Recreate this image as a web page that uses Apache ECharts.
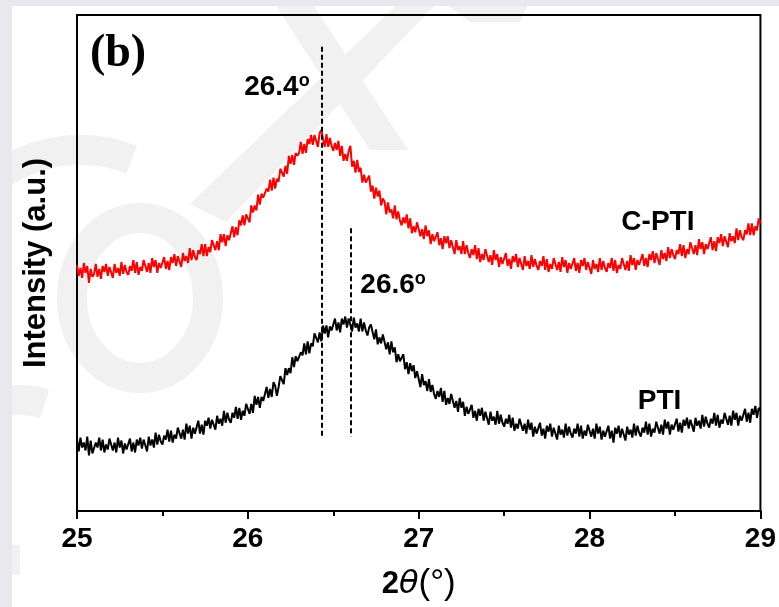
<!DOCTYPE html>
<html>
<head>
<meta charset="utf-8">
<script src="https://cdn.jsdelivr.net/npm/echarts@6/dist/echarts.min.js"></script>
<style>
  html, body { margin: 0; padding: 0; background: #fff; }
  #chart { width: 779px; height: 607px; }
</style>
</head>
<body>
<div id="chart"></div>
<script>
// XRD scan: 2θ from 25° to 29°, sampled every 0.01° (one row = 0.1°)
const angleStart = 25;
const angleStep = 0.01;

// C-PTI intensity (a.u.)
const cptiIntensity = [
  248, 237, 245, 235, 250, 240, 247, 230, 244, 236,
  239, 249, 236, 244, 234, 247, 241, 249, 237, 246,
  247, 235, 249, 240, 245, 237, 251, 239, 248, 241,
  238, 247, 242, 253, 240, 251, 238, 246, 242, 253,
  252, 241, 250, 240, 255, 246, 253, 240, 250, 245,
  246, 256, 244, 252, 243, 256, 250, 259, 247, 257,
  257, 246, 260, 252, 257, 250, 265, 253, 263, 256,
  253, 263, 259, 269, 257, 269, 257, 266, 261, 273,
  273, 263, 272, 263, 279, 271, 279, 267, 278, 273,
  275, 287, 276, 286, 278, 293, 288, 298, 288, 299,
  301, 291, 308, 301, 308, 303, 319, 309, 320, 316,
  314, 325, 322, 334, 323, 336, 325, 335, 332, 345,
  346, 337, 348, 340, 358, 350, 359, 349, 361, 358,
  361, 372, 360, 370, 361, 375, 370, 379, 369, 379,
  380, 367, 381, 384, 375, 367, 380, 367, 376, 368,
  363, 371, 364, 373, 358, 368, 353, 360, 353, 363,
  368, 347, 353, 341, 354, 342, 346, 331, 339, 331,
  330, 338, 322, 328, 315, 326, 317, 323, 308, 315,
  312, 299, 311, 301, 304, 295, 308, 294, 302, 293,
  288, 296, 290, 299, 285, 295, 280, 287, 281, 291,
  289, 277, 284, 274, 288, 277, 283, 269, 279, 272,
  272, 281, 268, 275, 264, 277, 270, 277, 265, 273,
  272, 259, 273, 263, 267, 259, 272, 259, 268, 260,
  255, 264, 258, 268, 254, 265, 251, 259, 253, 264,
  262, 251, 258, 248, 263, 253, 259, 246, 256, 249,
  250, 260, 247, 254, 244, 257, 251, 259, 246, 255,
  255, 243, 257, 247, 252, 244, 258, 246, 254, 247,
  243, 252, 247, 257, 243, 254, 241, 249, 244, 255,
  254, 243, 251, 241, 256, 246, 253, 240, 250, 244,
  245, 255, 242, 250, 240, 253, 247, 255, 243, 251,
  251, 239, 253, 244, 249, 241, 255, 243, 252, 245,
  241, 250, 245, 255, 242, 253, 240, 248, 244, 255,
  254, 243, 252, 242, 258, 248, 255, 243, 253, 248,
  249, 259, 247, 255, 246, 259, 253, 262, 250, 260,
  260, 248, 263, 254, 260, 252, 266, 255, 264, 258,
  254, 263, 259, 269, 257, 268, 255, 264, 259, 271,
  270, 259, 268, 258, 274, 264, 271, 259, 269, 264,
  265, 276, 263, 272, 262, 276, 270, 279, 267, 277,
  277, 266, 280, 272, 277, 270, 285, 273, 283, 276,
  273, 283, 279, 290, 278, 290, 278, 287, 283, 295,
  290
];

// PTI intensity (a.u.)
const ptiIntensity = [
  72, 60, 74, 64, 69, 61, 75, 56, 71, 58,
  60, 69, 64, 74, 61, 72, 59, 67, 62, 73,
  72, 61, 69, 59, 74, 64, 71, 58, 68, 62,
  63, 73, 60, 69, 59, 72, 66, 74, 63, 72,
  72, 60, 75, 66, 72, 64, 79, 67, 77, 70,
  67, 76, 72, 82, 70, 81, 69, 77, 73, 84,
  84, 73, 82, 72, 88, 78, 86, 73, 84, 78,
  80, 91, 78, 87, 77, 91, 86, 94, 83, 92,
  93, 82, 96, 88, 93, 86, 101, 89, 99, 92,
  89, 99, 94, 105, 93, 104, 92, 101, 96, 108,
  108, 98, 108, 99, 116, 107, 115, 104, 115, 111,
  113, 125, 114, 123, 115, 130, 126, 116, 125, 136,
  138, 128, 144, 137, 144, 139, 155, 145, 156, 151,
  149, 160, 157, 169, 158, 171, 159, 169, 166, 179,
  180, 170, 180, 171, 187, 179, 187, 175, 186, 182,
  184, 194, 182, 190, 180, 194, 188, 196, 185, 194,
  194, 181, 195, 185, 189, 181, 194, 181, 190, 182,
  177, 185, 188, 187, 173, 183, 168, 175, 169, 178,
  176, 163, 170, 158, 171, 160, 165, 150, 158, 151,
  150, 158, 143, 150, 138, 149, 141, 147, 134, 141,
  139, 125, 138, 127, 131, 121, 133, 120, 127, 118,
  113, 121, 115, 124, 110, 121, 107, 114, 108, 118,
  118, 104, 111, 100, 114, 104, 110, 96, 105, 98,
  98, 107, 94, 101, 91, 103, 96, 104, 91, 100,
  99, 87, 100, 91, 95, 87, 101, 88, 97, 89,
  85, 93, 88, 97, 84, 94, 81, 88, 83, 93,
  92, 81, 88, 78, 92, 82, 89, 75, 85, 78,
  79, 89, 76, 83, 73, 86, 80, 88, 75, 84,
  84, 72, 86, 77, 82, 74, 88, 76, 85, 78,
  74, 83, 78, 88, 75, 86, 73, 81, 76, 87,
  86, 75, 83, 73, 88, 78, 85, 72, 81, 75,
  76, 86, 73, 81, 69, 84, 78, 86, 74, 83,
  83, 71, 85, 77, 82, 74, 88, 76, 86, 79,
  75, 84, 79, 90, 77, 88, 75, 83, 79, 90,
  89, 78, 87, 77, 92, 83, 90, 77, 87, 82,
  83, 93, 80, 89, 79, 92, 86, 94, 83, 92,
  92, 80, 94, 86, 91, 83, 97, 85, 95, 88,
  84, 93, 88, 99, 86, 97, 84, 92, 88, 99,
  98, 87, 96, 86, 101, 92, 99, 86, 96, 91,
  92, 103, 90, 99, 89, 103, 97, 106, 94, 104,
  101
];

// Peak markers: position (2θ), top and bottom of the dashed guide
const peakAngles = [26.43, 26.6];
const peakLineTop = [468, 285];
const peakLineBottom = 75;
const peakLabelPos = [[26.17, 427], [26.85, 228]];

// Sample names and where they sit
const sampleNames = ['C-PTI', 'PTI'];
const sampleLabelPos = [[28.40, 291], [28.41, 111]];

const xMin = 25, xMax = 29, xInterval = 1;
const panelLetter = '(b)';

const toPairs = arr => arr.map((v, i) => [+(angleStart + i * angleStep).toFixed(2), v]);

const sans = '"Liberation Sans", Arial, sans-serif';
const black = '#000';
const wm = '#f1f1f1';

const chart = echarts.init(document.getElementById('chart'), null, { renderer: 'canvas' });

const option = {
  backgroundColor: '#ffffff',
  animation: false,
  grid: { left: 77, right: 18, top: 15, bottom: 92, show: true, borderColor: black, borderWidth: 2 },
  graphic: [
    // faint background watermark
    { type: 'polygon', z: -10, silent: true,
      shape: { points: [[190, 204], [226, 222], [440, 0], [402, 0]] },
      style: { fill: wm } },
    { type: 'polygon', z: -10, silent: true,
      shape: { points: [[272, 0], [310, 0], [408, 150], [370, 150]] },
      style: { fill: wm } },
    { type: 'polygon', z: -10, silent: true,
      shape: { points: [[440, 0], [530, 0], [520, 22], [470, 22]] },
      style: { fill: wm } },
    { type: 'ellipse', z: -10, silent: true,
      shape: { cx: 140, cy: 298, rx: 68, ry: 80 },
      style: { fill: 'none', stroke: wm, lineWidth: 30 } },
    { type: 'arc', z: -10, silent: true,
      shape: { cx: 80, cy: 290, r: 140, startAngle: Math.PI * 1.22, endAngle: Math.PI * 1.62 },
      style: { fill: 'none', stroke: wm, lineWidth: 30 } },
    { type: 'arc', z: -10, silent: true,
      shape: { cx: 20, cy: 480, r: 80, startAngle: Math.PI * 0.5, endAngle: Math.PI * 1.6 },
      style: { fill: 'none', stroke: wm, lineWidth: 30 } },
    // page edge bands
    { type: 'rect', z: -5, silent: true, shape: { x: 0, y: 0, width: 779, height: 6 }, style: { fill: '#e8e8ed' } },
    { type: 'rect', z: -5, silent: true, shape: { x: 0, y: 0, width: 12, height: 607 }, style: { fill: '#e8e8ed' } },
    // panel letter
    { type: 'text', z: 10, silent: true,
      style: { text: panelLetter, x: 118, y: 54, font: 'bold 46px "Liberation Serif", "Times New Roman", serif',
               fill: black, align: 'center', verticalAlign: 'middle', textAlign: 'center', textVerticalAlign: 'middle' } }
  ],
  xAxis: {
    type: 'value', min: xMin, max: xMax, interval: xInterval,
    axisLine: { show: true, lineStyle: { color: black, width: 2 } },
    axisTick: { show: true, inside: false, length: 8, lineStyle: { color: black, width: 2 } },
    minorTick: { show: true, splitNumber: 2, length: 5, lineStyle: { color: black, width: 2 } },
    splitLine: { show: false },
    axisLabel: { fontSize: 28, fontWeight: 'bold', color: black, fontFamily: sans, margin: 14,
                 showMinLabel: true, showMaxLabel: true },
    name: '{n|2}{t|θ}{p|(°)}',
    nameLocation: 'middle', nameGap: 56,
    nameTextStyle: {
      rich: {
        n: { fontSize: 31, fontWeight: 'bold', fontFamily: sans, color: black },
        t: { fontSize: 32, fontStyle: 'italic', fontFamily: '"DejaVu Sans", sans-serif', color: black },
        p: { fontSize: 35, fontFamily: sans, color: black }
      }
    }
  },
  yAxis: {
    type: 'value', min: 0, max: 500,
    axisLine: { show: true, lineStyle: { color: black, width: 2 } },
    axisTick: { show: false }, axisLabel: { show: false }, splitLine: { show: false },
    name: 'Intensity (a.u.)', nameLocation: 'middle', nameGap: 25,
    nameTextStyle: { fontSize: 31, fontWeight: 'bold', fontFamily: sans, color: black }
  },
  series: [
    {
      name: sampleNames[0], type: 'line', data: toPairs(cptiIntensity),
      showSymbol: false, symbol: 'none', z: 3,
      lineStyle: { color: '#ff0000', width: 2 }
    },
    {
      name: sampleNames[1], type: 'line', data: toPairs(ptiIntensity),
      showSymbol: false, symbol: 'none', z: 3,
      lineStyle: { color: black, width: 2 },
      markLine: {
        silent: true, symbol: ['none', 'none'], label: { show: false },
        lineStyle: { color: black, width: 2, type: [5, 3], opacity: 1 },
        data: peakAngles.map((a, i) => [{ coord: [a, peakLineTop[i]] }, { coord: [a, peakLineBottom] }])
      }
    },
    {
      type: 'scatter', symbolSize: 0, silent: true, z: 5,
      itemStyle: { opacity: 1 },
      data: peakAngles.map((a, i) => ({ value: peakLabelPos[i], angle: a })),
      label: {
        show: true, position: 'inside', opacity: 1,
        formatter: p => '{v|' + p.data.angle.toFixed(1) + '}{d|o}',
        rich: {
          v: { fontSize: 28, fontWeight: 'bold', fontFamily: sans, color: black, lineHeight: 30 },
          d: { fontSize: 18, fontWeight: 'bold', fontFamily: sans, color: black, lineHeight: 18, verticalAlign: 'top' }
        }
      }
    },
    {
      type: 'scatter', symbolSize: 0, silent: true, z: 5,
      itemStyle: { opacity: 1 },
      data: sampleNames.map((s, i) => ({ value: sampleLabelPos[i], name: s })),
      label: {
        show: true, position: 'inside', opacity: 1, formatter: p => p.name,
        fontSize: 28, fontWeight: 'bold', fontFamily: sans, color: black
      }
    }
  ]
};

chart.setOption(option);
</script>
</body>
</html>
